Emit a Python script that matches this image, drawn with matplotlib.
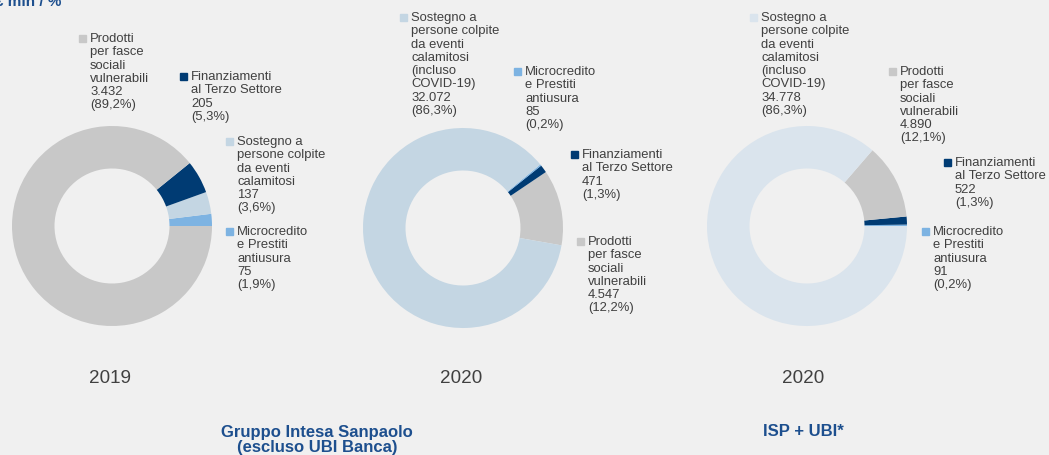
import matplotlib
matplotlib.use("Agg")
import matplotlib.pyplot as plt
from matplotlib.patches import Rectangle

# -------------------------------
# Data (EUR mln)
# -------------------------------
PRODOTTI = "Prodotti\nper fasce\nsociali\nvulnerabili"
FINANZ = "Finanziamenti\nal Terzo Settore"
SOSTEGNO_2019 = "Sostegno a\npersone colpite\nda eventi\ncalamitosi"
SOSTEGNO_2020 = "Sostegno a\npersone colpite\nda eventi\ncalamitosi\n(incluso\nCOVID-19)"
MICRO = "Microcredito\ne Prestiti\nantiusura"

# chart 1: Gruppo 2019 (order counter-clockwise from 3 o'clock)
c1_names = [MICRO, SOSTEGNO_2019, FINANZ, PRODOTTI]
c1_values = [75, 137, 205, 3432]
c1_pcts = [1.9, 3.6, 5.3, 89.2]

# chart 2: Gruppo 2020 (escluso UBI)
c2_names = [PRODOTTI, FINANZ, MICRO, SOSTEGNO_2020]
c2_values = [4547, 471, 85, 32072]
c2_pcts = [12.2, 1.3, 0.2, 86.3]

# chart 3: ISP + UBI 2020
c3_names = [MICRO, FINANZ, PRODOTTI, SOSTEGNO_2020]
c3_values = [91, 522, 4890, 34778]
c3_pcts = [0.2, 1.3, 12.1, 86.3]

years = ["2019", "2020", "2020"]

# -------------------------------
# Style
# -------------------------------
W, H = 1049, 456
BG = "#f0f0f0"
TXT = "#404040"
NAVY_T = "#1d4f8e"
col = {
    PRODOTTI: "#c8c8c8",
    FINANZ: "#003b73",
    MICRO: "#7db3e2",
}
sost_col = ["#c4d6e3", "#c4d6e3", "#dae4ed"]

plt.rcParams["font.family"] = ["Liberation Sans", "DejaVu Sans"]

fig = plt.figure(figsize=(W / 100, H / 100), dpi=100)
fig.patch.set_facecolor(BG)


def fx(x):
    return x / W


def fy(y):
    return 1 - y / H


def fmt_val(v):
    return f"{v:,}".replace(",", ".")


def fmt_pct(p):
    return "(" + f"{p:.1f}".replace(".", ",") + "%)"


def donut(cx, cy, r, names, values, start, sost_color):
    ax = fig.add_axes([fx(cx - r), fy(cy + r), 2 * r / W, 2 * r / H])
    colors = [col.get(n, sost_color) for n in names]
    ax.pie(values, colors=colors, startangle=start, counterclock=True,
           radius=1, wedgeprops=dict(width=0.425, linewidth=0))
    ax.set_xlim(-1, 1)
    ax.set_ylim(-1, 1)
    ax.set_aspect("equal")
    ax.axis("off")


def label(mx, my, name, value, pct, color):
    fig.patches.append(Rectangle((fx(mx), fy(my + 7)), 7 / W, 7 / H,
                                 transform=fig.transFigure, color=color))
    fig.text(fx(mx + 11), fy(my - 3), name + "\n" + fmt_val(value) + "\n" + fmt_pct(pct),
             ha="left", va="top", fontsize=9.4, color=TXT, linespacing=1.14)


# -------------------------------
# Donuts
# -------------------------------
donut(112, 227, 100, c1_names, c1_values, 0, sost_col[0])
donut(463, 229, 100, c2_names, c2_values, -10, sost_col[1])
donut(807, 227, 100, c3_names, c3_values, 0, sost_col[2])

# label positions (marker top-left, pixels)
pos1 = {PRODOTTI: (79, 36), FINANZ: (180, 74), SOSTEGNO_2019: (226, 139), MICRO: (226, 229)}
pos2 = {SOSTEGNO_2020: (400, 15), MICRO: (514, 69), FINANZ: (571, 152), PRODOTTI: (577, 239)}
pos3 = {SOSTEGNO_2020: (750, 15), PRODOTTI: (889, 69), FINANZ: (944, 160), MICRO: (922, 229)}

for names, values, pcts, pos, sc in [
    (c1_names, c1_values, c1_pcts, pos1, sost_col[0]),
    (c2_names, c2_values, c2_pcts, pos2, sost_col[1]),
    (c3_names, c3_values, c3_pcts, pos3, sost_col[2]),
]:
    for n, v, p in zip(names, values, pcts):
        mx, my = pos[n]
        label(mx, my, n, v, p, col.get(n, sc))

# years
for x, yr in zip([110, 461, 803], years):
    fig.text(fx(x), fy(379), yr, ha="center", va="center", fontsize=13.6, color=TXT)

# group titles
fig.text(fx(317), fy(440), "Gruppo Intesa Sanpaolo\n(escluso UBI Banca)", ha="center",
         va="center", fontsize=12, fontweight="bold", color=NAVY_T, linespacing=1.08)
fig.text(fx(803), fy(432), "ISP + UBI*", ha="center", va="center",
         fontsize=12, fontweight="bold", color=NAVY_T)

# cropped unit title
fig.text(fx(-5), fy(6), "€ mln / %", ha="left", va="baseline",
         fontsize=11, fontweight="bold", color=NAVY_T)

fig.savefig("out.png", dpi=100, facecolor=BG)
